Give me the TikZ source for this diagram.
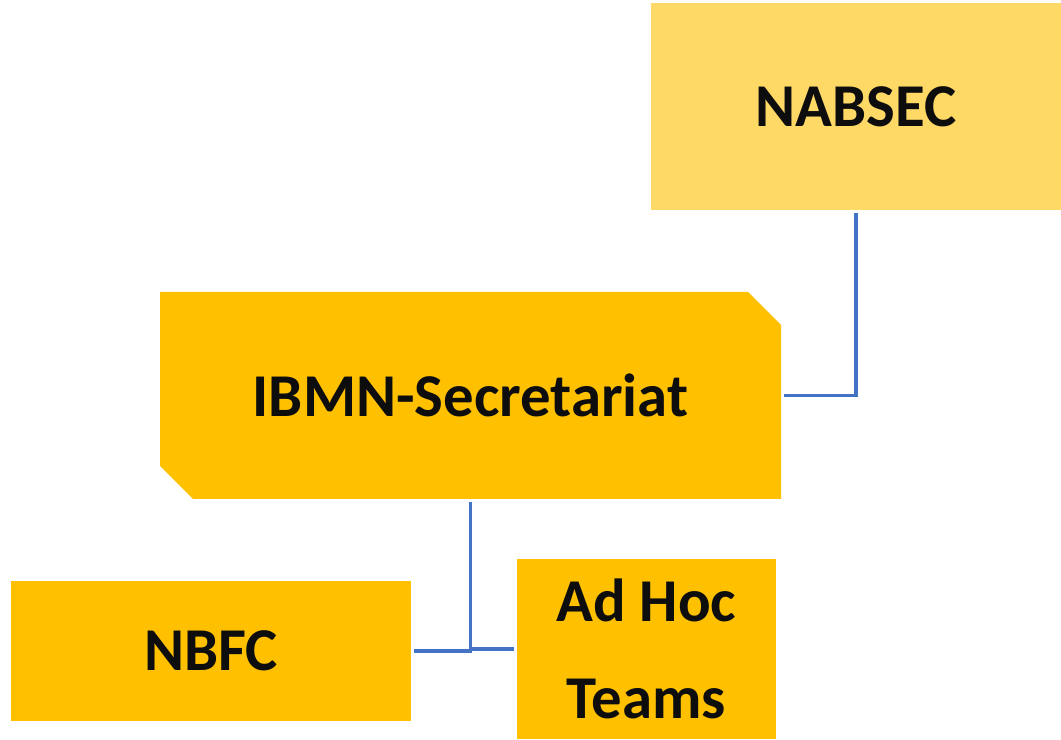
\documentclass[tikz,border=0pt]{standalone}
\usepackage{fontspec}
\setmainfont{Carlito}
\usetikzlibrary{shapes.misc}
\definecolor{goldlight}{HTML}{FFD966}
\definecolor{goldbox}{HTML}{FFC000}
\definecolor{linkblue}{HTML}{4472C4}
\definecolor{textblack}{HTML}{0D0D0D}
\begin{document}
\begin{tikzpicture}[
  unitbox/.style={fill=goldbox,draw=none,inner sep=0pt,align=center,text=textblack,
    font=\fontsize{34.6}{55.5}\selectfont\bfseries},
  link/.style={draw=linkblue,line width=1.8pt}]
\useasboundingbox (0,0) rectangle (21.22,14.78);
\node[unitbox,fill=goldlight,minimum width=8.2cm,minimum height=4.14cm] (nabsec) at (17.12,12.65) {NABSEC};
\node[unitbox,chamfered rectangle,chamfered rectangle corners={north east,south west},
  chamfered rectangle xsep=0.33cm,chamfered rectangle ysep=0.33cm,
  minimum width=12.42cm,minimum height=4.14cm] (ibmn) at (9.41,6.87) {IBMN-Secretariat};
\node[unitbox,minimum width=8.0cm,minimum height=2.8cm] (nbfc) at (4.22,1.76) {NBFC};
\node[unitbox,minimum width=5.18cm,minimum height=3.6cm] (adhoc) at (12.93,1.8) {Ad Hoc\\Teams};
\draw[link,shorten <=1.5pt,shorten >=1.5pt] (nabsec.south) |- (ibmn.east);
\draw[link,shorten <=1.5pt,shorten >=1.5pt] (ibmn.south) |- (nbfc.east);
\draw[link,shorten <=1.5pt,shorten >=1.5pt] (ibmn.south) |- (adhoc.west);
\end{tikzpicture}
\end{document}
